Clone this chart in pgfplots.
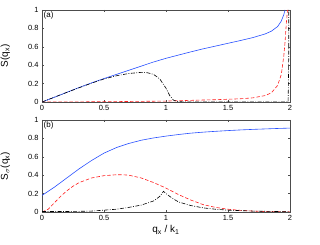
\documentclass[border=0pt]{standalone}
\usepackage{pgfplots}
\pgfplotsset{compat=1.18}
\usepackage{fontspec}
\setmainfont{Liberation Sans}
\definecolor{mblue}{RGB}{40,80,255}
\definecolor{mred}{RGB}{255,30,30}
\begin{document}
\begin{tikzpicture}[x=1bp,y=1bp]
\path[use as bounding box] (0,0) rectangle (320,245);
\pgfplotsset{
  every axis/.append style={
    scale only axis, width=248bp, height=92bp,
    xmin=0, xmax=2, ymin=0, ymax=1,
    xtick={0,0.5,1,1.5,2}, ytick={0,0.2,0.4,0.6,0.8,1},
    tick align=inside, major tick length=2bp,
    tick label style={font=\fontsize{7.5}{8}\selectfont},
    /pgf/number format/assume math mode=true,
    axis line style={black!70, line width=0.5bp},
    tick style={black!70, line width=0.4bp},
    label style={font=\fontsize{10}{11}\selectfont},
    clip=true,
  },
  dsh/.style={dash pattern=on 3.5bp off 2bp},
  dshdot/.style={dash pattern=on 4bp off 1.5bp on 0.8bp off 1.5bp},
}
\begin{axis}[at={(42bp,143bp)}, anchor=south west,
  ylabel={S(q\textsubscript{x})},
  ylabel style={at={(axis description cs:-0.115,0.5)}}]
\node[anchor=north west, font=\fontsize{8}{9}\selectfont, inner sep=1.5bp] at (axis description cs:0,1) {(a)};
\addplot[mblue, line width=0.6bp] coordinates {
(0,0) (0.1,0.052) (0.2,0.105) (0.3,0.158) (0.4,0.208) (0.5,0.255) (0.6,0.3) (0.7,0.345) (0.8,0.39) (0.9,0.435) (1.0,0.475) (1.1,0.51) (1.2,0.545) (1.3,0.578) (1.4,0.608) (1.5,0.638) (1.6,0.668) (1.7,0.7) (1.8,0.74) (1.85,0.77) (1.9,0.82) (1.93,0.88) (1.95,0.95) (1.96,1.0)};
\addplot[mred, dsh, line width=0.6bp] coordinates {
(0,0) (0.5,0.003) (1.0,0.01) (1.2,0.018) (1.4,0.025) (1.6,0.035) (1.7,0.045) (1.8,0.07) (1.85,0.1) (1.9,0.18) (1.93,0.3) (1.95,0.5) (1.96,0.65) (1.97,0.85) (1.98,1.0)};
\addplot[black, dshdot, line width=0.6bp] coordinates {
(0,0) (0.1,0.052) (0.2,0.105) (0.3,0.155) (0.4,0.205) (0.5,0.25) (0.6,0.285) (0.7,0.31) (0.8,0.322) (0.85,0.318) (0.9,0.3) (0.95,0.25) (1.0,0.15) (1.03,0.07) (1.06,0.02) (1.1,0.003) (1.2,0) (1.985,0) (1.99,0.5) (1.99,1.0)};
\end{axis}
\begin{axis}[at={(42bp,33bp)}, anchor=south west,
  ylabel={S\textsubscript{$\sigma$}(q\textsubscript{x})},
  ylabel style={at={(axis description cs:-0.115,0.5)}},
  xlabel={q\textsubscript{x} / k\textsubscript{1}},
  xlabel style={at={(axis description cs:0.5,-0.11)}}]
\node[anchor=north west, font=\fontsize{8}{9}\selectfont, inner sep=1.5bp] at (axis description cs:0,1) {(b)};
\addplot[mblue, line width=0.6bp] coordinates {
(0,0.18) (0.1,0.27) (0.2,0.37) (0.3,0.47) (0.4,0.56) (0.5,0.64) (0.6,0.7) (0.7,0.745) (0.8,0.78) (0.9,0.805) (1.0,0.825) (1.1,0.842) (1.2,0.857) (1.3,0.868) (1.4,0.877) (1.5,0.885) (1.6,0.892) (1.7,0.898) (1.8,0.903) (1.9,0.908) (2.0,0.912)};
\addplot[mred, dsh, line width=0.6bp] coordinates {
(0,0.0) (0.05,0.03) (0.1,0.1) (0.15,0.17) (0.2,0.23) (0.25,0.28) (0.3,0.32) (0.4,0.37) (0.5,0.395) (0.6,0.405) (0.65,0.405) (0.7,0.4) (0.8,0.37) (0.9,0.32) (1.0,0.26) (1.1,0.19) (1.2,0.13) (1.3,0.08) (1.4,0.05) (1.5,0.03) (1.6,0.018) (1.7,0.01) (1.8,0.005) (2.0,0.002)};
\addplot[black, dshdot, line width=0.6bp] coordinates {
(0,0.005) (0.2,0.005) (0.4,0.01) (0.5,0.02) (0.6,0.03) (0.7,0.05) (0.8,0.075) (0.9,0.12) (0.95,0.17) (0.98,0.225) (1.0,0.2) (1.05,0.15) (1.1,0.11) (1.2,0.07) (1.3,0.045) (1.4,0.03) (1.5,0.02) (1.7,0.01) (2.0,0.003)};
\end{axis}
\end{tikzpicture}
\end{document}
